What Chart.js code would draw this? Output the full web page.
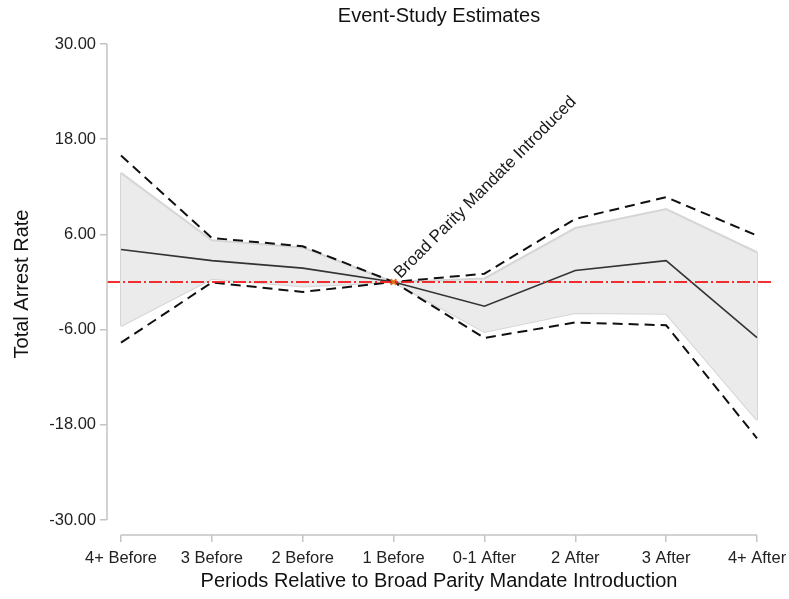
<!DOCTYPE html>
<html>
<head>
<meta charset="utf-8">
<script src="https://cdn.jsdelivr.net/npm/chart.js@4/dist/chart.umd.min.js"></script>
<style>
  html, body { margin: 0; padding: 0; background: #fff; }
  #wrap { width: 789px; height: 599px; }
</style>
</head>
<body>
<div id="wrap"><canvas id="c" width="789" height="599"></canvas></div>
<script>
// Event periods and estimates
const periods = ['4+ Before', '3 Before', '2 Before', '1 Before', '0-1 After', '2 After', '3 After', '4+ After'];
const estimate  = [4.1, 2.7, 1.75, 0, -3.05, 1.45, 2.7, -7.0];
const bandUpper = [13.75, 5.25, 4.35, 0, 0.45, 6.8, 9.2, 3.75];
const bandLower = [-5.55, 0.4, -0.55, 0, -6.3, -3.9, -4.0, -17.4];
const ciUpper   = [15.95, 5.55, 4.5, 0, 1.05, 7.95, 10.7, 5.85];
const ciLower   = [-7.65, -0.05, -1.25, 0, -7.05, -5.1, -5.45, -19.7];
const yTicks = [-30, -18, -6, 6, 18, 30];
const referenceLevel = 0;
const mandateIndex = 3;
const mandateLabel = 'Broad Parity Mandate Introduced';

const FONT = '"Liberation Sans", Arial, Helvetica, sans-serif';
const X_MIN = -0.154, X_MAX = 7.165;
const Y_MIN = -31.887, Y_MAX = 30;

const toPts = arr => arr.map((v, i) => ({ x: i, y: v }));

// Closes the shaded band at its two ends with the same light edge
const bandEdges = {
  id: 'bandEdges',
  beforeDatasetsDraw(chart) {
    const { ctx, scales: { x, y } } = chart;
    const last = periods.length - 1;
    ctx.save();
    ctx.strokeStyle = '#d6d6d6';
    ctx.lineWidth = 2;
    ctx.beginPath();
    [0, last].forEach(i => {
      ctx.moveTo(x.getPixelForValue(i), y.getPixelForValue(bandUpper[i]));
      ctx.lineTo(x.getPixelForValue(i), y.getPixelForValue(bandLower[i]));
    });
    ctx.stroke();
    ctx.restore();
  }
};

// Offset axis lines, titles and the mandate annotation
const decorations = {
  id: 'decorations',
  afterDraw(chart) {
    const { ctx, scales: { x, y }, chartArea } = chart;
    const first = x.getPixelForValue(0), last = x.getPixelForValue(periods.length - 1);
    const top = y.getPixelForValue(yTicks[yTicks.length - 1]), bottom = y.getPixelForValue(yTicks[0]);
    ctx.save();
    ctx.strokeStyle = '#c4c4c4';
    ctx.lineWidth = 1.5;
    ctx.beginPath();
    ctx.moveTo(chartArea.left, top);
    ctx.lineTo(chartArea.left, bottom);
    ctx.moveTo(first, chartArea.bottom);
    ctx.lineTo(last, chartArea.bottom);
    ctx.stroke();

    ctx.fillStyle = '#111';
    ctx.textAlign = 'center';
    ctx.textBaseline = 'middle';
    ctx.font = '20px ' + FONT;
    ctx.fillText('Event-Study Estimates', (first + last) / 2, 16);
    ctx.fillText('Periods Relative to Broad Parity Mandate Introduction', (first + last) / 2, 581);

    ctx.save();
    ctx.translate(22, (top + bottom) / 2 + 2);
    ctx.rotate(-Math.PI / 2);
    ctx.fillText('Total Arrest Rate', 0, 0);
    ctx.restore();

    const ax = x.getPixelForValue(mandateIndex), ay = y.getPixelForValue(referenceLevel);
    ctx.save();
    ctx.translate(ax + 7, ay - 3);
    ctx.rotate(-Math.PI / 4);
    ctx.textAlign = 'left';
    ctx.textBaseline = 'alphabetic';
    ctx.font = '17px ' + FONT;
    ctx.fillStyle = '#1a1a1a';
    ctx.fillText(mandateLabel, 0, 0);
    ctx.restore();
    ctx.restore();
  }
};

new Chart(document.getElementById('c'), {
  type: 'line',
  data: {
    datasets: [
      {
        label: 'mandate',
        type: 'scatter',
        data: [{ x: mandateIndex, y: referenceLevel }],
        pointStyle: 'crossRot',
        pointRadius: 4,
        borderColor: '#e2701e',
        borderWidth: 2,
        order: 0
      },
      {
        label: 'reference',
        data: [{ x: X_MIN, y: referenceLevel }, { x: X_MAX, y: referenceLevel }],
        borderColor: 'rgba(240,25,25,0.9)',
        borderWidth: 1.8,
        borderDash: [13, 3, 2, 3],
        pointRadius: 0,
        fill: false,
        order: 1
      },
      {
        label: 'estimate',
        data: toPts(estimate),
        borderColor: '#333',
        borderWidth: 1.6,
        pointRadius: 0,
        fill: false,
        order: 2
      },
      {
        label: 'ci upper',
        data: toPts(ciUpper),
        borderColor: '#111',
        borderWidth: 2,
        borderDash: [10, 6],
        pointRadius: 0,
        fill: false,
        order: 3
      },
      {
        label: 'ci lower',
        data: toPts(ciLower),
        borderColor: '#111',
        borderWidth: 2,
        borderDash: [10, 6],
        pointRadius: 0,
        fill: false,
        order: 4
      },
      {
        label: 'band upper',
        data: toPts(bandUpper),
        borderColor: '#d6d6d6',
        borderWidth: 2,
        backgroundColor: '#ebebeb',
        pointRadius: 0,
        fill: '+1',
        order: 5
      },
      {
        label: 'band lower',
        data: toPts(bandLower),
        borderColor: '#d6d6d6',
        borderWidth: 2,
        pointRadius: 0,
        fill: false,
        order: 6
      }
    ]
  },
  options: {
    responsive: false,
    animation: false,
    devicePixelRatio: 1,
    layout: { padding: { top: 44, right: 17, left: 0, bottom: 0 } },
    elements: { line: { tension: 0 } },
    plugins: {
      legend: { display: false },
      title: { display: false },
      tooltip: { enabled: false }
    },
    scales: {
      x: {
        type: 'linear',
        min: X_MIN,
        max: X_MAX,
        afterBuildTicks: s => { s.ticks = periods.map((_, i) => ({ value: i })); },
        afterFit: s => { s.height = 64; s.paddingLeft = 0; s.paddingRight = 0; },
        border: { display: false },
        grid: { display: true, drawOnChartArea: false, drawTicks: true, tickLength: 7, color: '#c4c4c4', lineWidth: 1.5 },
        ticks: {
          autoSkip: false,
          maxRotation: 0,
          padding: 7,
          color: '#222',
          font: { family: FONT, size: 16.5 },
          callback: v => periods[v]
        }
      },
      y: {
        min: Y_MIN,
        max: Y_MAX,
        afterBuildTicks: s => { s.ticks = yTicks.map(v => ({ value: v })); },
        afterFit: s => { s.width = 107; s.paddingTop = 0; s.paddingBottom = 0; },
        border: { display: false },
        grid: { display: true, drawOnChartArea: false, drawTicks: true, tickLength: 7, color: '#c4c4c4', lineWidth: 1.5 },
        ticks: {
          padding: 4,
          color: '#222',
          font: { family: FONT, size: 16.5 },
          callback: v => Number(v).toFixed(2)
        }
      }
    }
  },
  plugins: [bandEdges, decorations]
});
</script>
</body>
</html>
